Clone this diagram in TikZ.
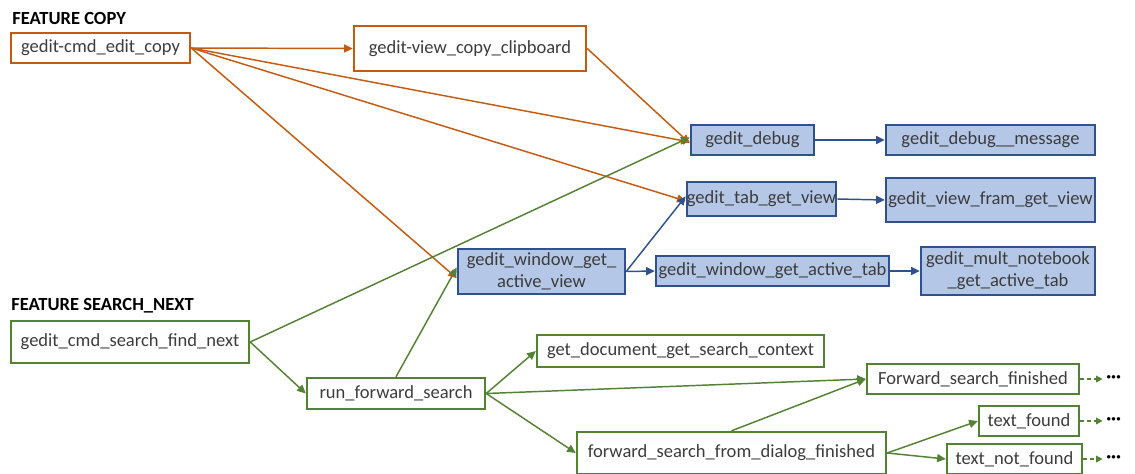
\documentclass[tikz,border=0pt]{standalone}
\usepackage{fontspec}
\setmainfont{Carlito}
\usetikzlibrary{arrows.meta}
\definecolor{copyorange}{RGB}{197,90,17}
\definecolor{searchgreen}{RGB}{84,130,53}
\definecolor{callblue}{RGB}{47,82,143}
\definecolor{callfill}{RGB}{180,199,231}
\definecolor{txtgray}{RGB}{60,60,60}

\begin{document}
\begin{tikzpicture}[x=0.75pt,y=0.75pt,yscale=-1,xscale=1,
  font=\fontsize{13.9}{16.5}\selectfont,
  fbox/.style={draw, line width=1.8pt, inner sep=0pt, text=txtgray, align=center},
  copybox/.style={fbox, draw=copyorange},
  searchbox/.style={fbox, draw=searchgreen},
  callbox/.style={fbox, draw=callblue, fill=callfill},
  tip/.style={-{Triangle[length=6.5pt,width=6pt]}, line width=1.1pt},
  copyline/.style={tip, draw=copyorange},
  searchline/.style={tip, draw=searchgreen},
  callline/.style={tip, draw=callblue},
  moreline/.style={-{Triangle[length=5pt,width=5pt]}, line width=1.1pt, draw=searchgreen, dash pattern={on 3pt off 2pt}, shorten >=2.5pt},
  moredots/.style={anchor=west, inner sep=0pt, font=\fontsize{13.9}{16.5}\selectfont\bfseries},
  title/.style={anchor=base west, inner sep=0pt, font=\fontsize{13.9}{16.5}\selectfont\bfseries}]
\useasboundingbox (0,0) rectangle (1135,474);

% Titles
\node [title] (copytitle) at (12,25) {FEATURE COPY};
\node [title] (searchtitle) at (11,310) {FEATURE SEARCH\_NEXT};

% Feature copy
\node [copybox, minimum width=134.25pt, minimum height=22.5pt] (copy) at (100.5,48) {gedit-cmd\_edit\_copy};
\node [copybox, minimum width=174pt, minimum height=33.75pt] (clip) at (470,48.5) {gedit-view\_copy\_clipboard};

% Shared calls
\node [callbox, minimum width=92.25pt, minimum height=22.5pt] (debug) at (752.5,140) {gedit\_debug};
\node [callbox, minimum width=156.75pt, minimum height=22.5pt] (dmsg) at (990.5,140) {gedit\_debug\_\_message};
\node [callbox, minimum width=105.75pt, minimum height=25.5pt] (tabview) at (761.5,199) {gedit\_tab\_get\_view};
\node [callbox, minimum width=156.75pt, minimum height=33pt] (fram) at (990.5,200) {gedit\_view\_fram\_get\_view};
\node [callbox, minimum width=125.25pt, minimum height=33.75pt] (actview) at (541.5,271.5) {gedit\_window\_get\_\\active\_view};
\node [callbox, minimum width=174.75pt, minimum height=22.5pt] (acttab) at (772.5,271) {gedit\_window\_get\_active\_tab};
\node [callbox, minimum width=130.5pt, minimum height=36pt] (notebook) at (1008,271) {gedit\_mult\_notebook\\\_get\_active\_tab};

% Feature search_next
\node [searchbox, minimum width=178.5pt, minimum height=31.5pt] (findnext) at (130,342) {gedit\_cmd\_search\_find\_next};
\node [searchbox, minimum width=133.5pt, minimum height=23.25pt] (rfs) at (396,393.5) {run\_forward\_search};
\node [searchbox, minimum width=215.25pt, minimum height=24pt] (getdoc) at (680.5,351) {get\_document\_get\_search\_context};
\node [searchbox, minimum width=159pt, minimum height=22.5pt] (ffin) at (973,379) {Forward\_search\_finished};
\node [searchbox, minimum width=231.75pt, minimum height=31.5pt] (dialog) at (731.5,453) {forward\_search\_from\_dialog\_finished};
\node [searchbox, minimum width=75pt, minimum height=22.5pt] (found) at (1029,421) {text\_found};
\node [searchbox, minimum width=101.25pt, minimum height=22.5pt] (notfound) at (1014.5,459) {text\_not\_found};

% Dots
\node [moredots] (moreffin) at (1106,379) {···};
\node [moredots] (morefound) at (1106,421) {···};
\node [moredots] (morenotfound) at (1106,459) {···};

% Copy edges
\draw [copyline] (copy.east) -- (clip.west);
\draw [copyline] (copy.east) -- ([yshift=1.5pt]debug.west);
\draw [copyline] (copy.east) -- ([yshift=1.5pt]tabview.west);
\draw [copyline] (copy.east) -- ([yshift=5pt]actview.west);
\draw [copyline] (clip.east) -- ([yshift=2.5pt]debug.west);

% Call edges
\draw [callline] (debug.east) -- (dmsg.west);
\draw [callline] (tabview.east) -- (fram.west);
\draw [callline] (actview.east) -- ([yshift=-2pt]tabview.west);
\draw [callline] (actview.east) -- (acttab.west);
\draw [callline] (acttab.east) -- (notebook.west);

% Search edges
\draw [searchline] (findnext.east) -- ([yshift=-2pt]debug.west);
\draw [searchline] (findnext.east) -- (rfs.west);
\draw [searchline] (rfs.north) -- ([yshift=-3pt]actview.west);
\draw [searchline] (rfs.east) -- (getdoc.west);
\draw [searchline] (rfs.east) -- (ffin.west);
\draw [searchline] (rfs.east) -- (dialog.west);
\draw [searchline] (dialog.north) -- (ffin.west);
\draw [searchline] (dialog.east) -- (found.west);
\draw [searchline] (dialog.east) -- (notfound.west);

% Continued
\draw [moreline] (ffin.east) -- (moreffin.west);
\draw [moreline] (found.east) -- (morefound.west);
\draw [moreline] (notfound.east) -- (morenotfound.west);

\end{tikzpicture}
\end{document}
